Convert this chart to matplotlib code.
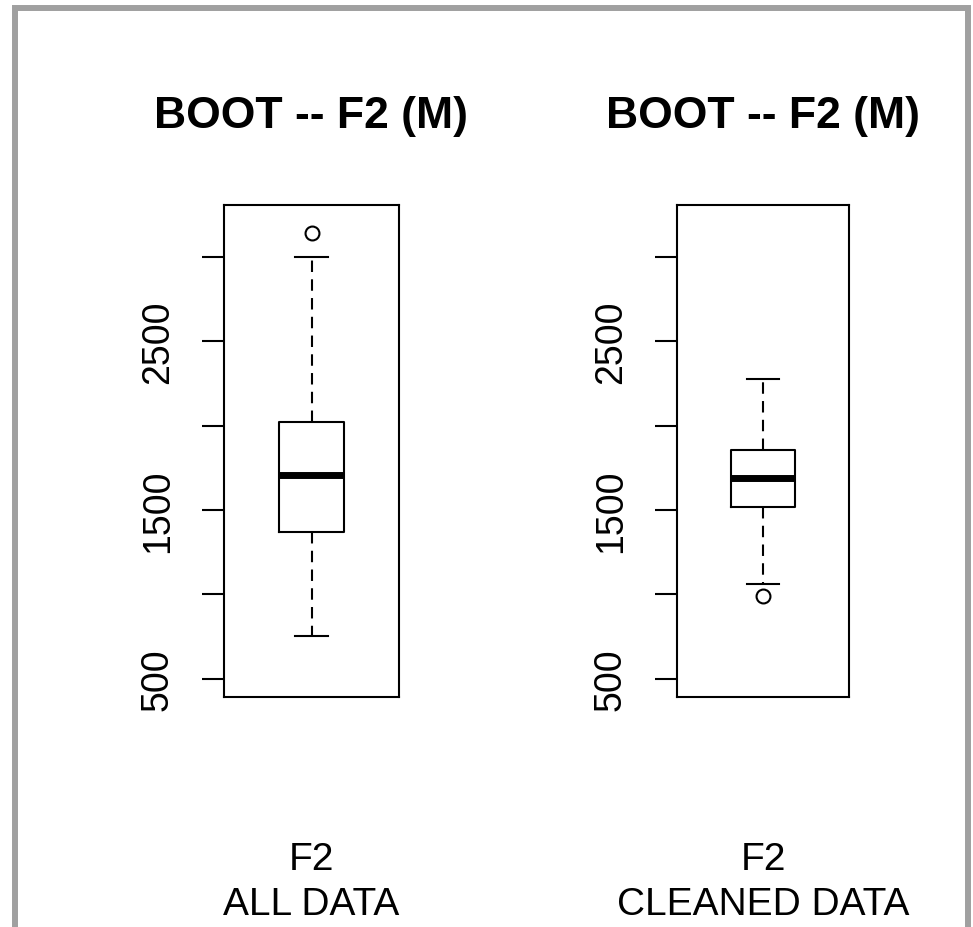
import matplotlib
matplotlib.use("Agg")
import matplotlib.pyplot as plt
from matplotlib.lines import Line2D

# Five-number summaries for the two bootstrap panels
panel_titles = ["BOOT -- F2 (M)", "BOOT -- F2 (M)"]
panel_xlabels = ["F2\nALL DATA", "F2\nCLEANED DATA"]
whisker_low = [755, 1062]
q1 = [1371, 1520]
median = [1705, 1689]
q3 = [2024, 1854]
whisker_high = [3000, 2274]
outliers = [[3141], [989]]

ytick_values = [500, 1000, 1500, 2000, 2500, 3000]
ytick_labels = ["500", "", "1500", "", "2500", ""]
y_range = [500, 3200]

plt.rcParams["font.family"] = ["Liberation Sans", "DejaVu Sans"]

W, H = 973, 928
fig = plt.figure(figsize=(W / 100, H / 100), dpi=100)
fig.patch.set_facecolor("white")

# window-style frame: left, top and right edges
fig.add_artist(Line2D([15 / W, 15 / W, 968 / W, 968 / W],
                      [0, 1 - 9 / H, 1 - 9 / H, 0],
                      transform=fig.transFigure, color="#a0a0a0",
                      lw=4.3, solid_joinstyle="miter"))

axes_boxes = [(224, 206, 399, 698), (677, 206, 849, 698)]
lw = 1.5
pad = 0.04 * (y_range[1] - y_range[0])

for i, (x0, y0, x1, y1) in enumerate(axes_boxes):
    ax = fig.add_axes([x0 / W, 1 - y1 / H, (x1 - x0) / W, (y1 - y0) / H])
    stats = [{
        "whislo": whisker_low[i], "q1": q1[i], "med": median[i],
        "q3": q3[i], "whishi": whisker_high[i], "fliers": outliers[i],
    }]
    ax.bxp(stats, positions=[1], widths=0.4, capwidths=0.2,
           boxprops=dict(color="black", lw=lw),
           whiskerprops=dict(color="black", lw=lw, linestyle=(0, (5.5, 3.5))),
           capprops=dict(color="black", lw=lw),
           medianprops=dict(color="black", lw=5, solid_capstyle="butt"),
           flierprops=dict(marker="o", markerfacecolor="none",
                           markeredgecolor="black", markersize=10,
                           markeredgewidth=lw))
    ax.set_xlim(0.46, 1.54)
    ax.set_ylim(y_range[0] - pad, y_range[1] + pad)
    for s in ax.spines.values():
        s.set_linewidth(lw)
    ax.set_xticks([])
    ax.set_yticks(ytick_values)
    ax.set_yticklabels(ytick_labels, rotation=90, va="center", fontsize=27)
    ax.tick_params(axis="y", length=15.8, width=lw, pad=19)
    ax.set_title(panel_titles[i], fontsize=32, fontweight="bold", pad=56)
    ax.set_xlabel(panel_xlabels[i], fontsize=28, linespacing=1.33)
    ax.xaxis.set_label_coords(0.5, -0.293)

fig.savefig("out.png", dpi=100, facecolor="white")
